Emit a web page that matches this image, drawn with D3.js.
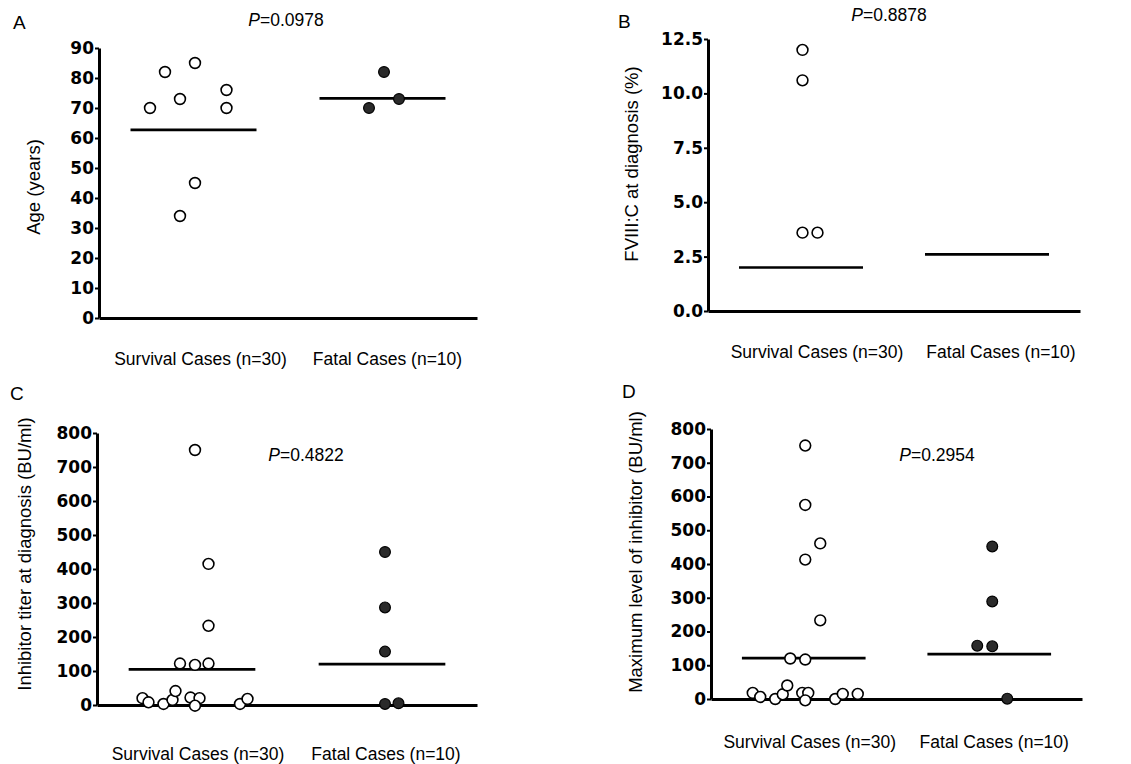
<!DOCTYPE html>
<html>
<head>
<meta charset="utf-8">
<script src="https://d3js.org/d3.v7.min.js"></script>
<style>
  body { margin: 0; background: #fff; }
  svg { display: block; }
  .ytick text { font-family: "DejaVu Sans", sans-serif; font-weight: bold; font-size: 17px; fill: #000; }
  .lbl { font-family: "Liberation Sans", Arial, sans-serif; fill: #000; }
</style>
</head>
<body>
<svg id="chart" width="1131" height="764"></svg>
<script>
// categories and labels
const categories = ['Survival Cases (n=30)', 'Fatal Cases (n=10)'];
const panelLetters = ['A', 'B', 'C', 'D'];
const pValues = ['0.0978', '0.8878', '0.4822', '0.2954'];
const yTitles = ['Age (years)', 'FVIII:C at diagnosis (%)', 'Inhibitor titer at diagnosis (BU/ml)', 'Maximum level of inhibitor (BU/ml)'];

// tick values
const ageTicks = [0, 10, 20, 30, 40, 50, 60, 70, 80, 90];
const fviiiTicks = [0, 2.5, 5, 7.5, 10, 12.5];
const titerTicks = [0, 100, 200, 300, 400, 500, 600, 700, 800];

// A: age
const ageSurv = [70, 82, 73, 85, 76, 70, 45, 34];
const ageSurvOff = [-2.9, -1.9, -0.9, 0.1, 2.2, 2.2, 0.1, -0.9];
const ageFatal = [82, 70, 73];
const ageFatalOff = [0.1, -0.9, 1.1];
const ageMedians = [62.7, 73.2];

// B: FVIII:C
const fviiiSurv = [12.0, 10.6, 3.6, 3.6];
const fviiiSurvOff = [0.1, 0.1, 0.1, 1.1];
const fviiiFatal = [];
const fviiiFatalOff = [];
const fviiiMedians = [2.0, 2.6];

// C: inhibitor titer at diagnosis
const titerSurv = [750, 415, 233, 122, 118, 122, 20, 8, 3, 15, 41, 22, 20, -2, 3, 18];
const titerSurvOff = [0.2, 1.1, 1.1, -0.8, 0.2, 1.1, -3.3, -2.9, -1.9, -1.3, -1.1, -0.1, 0.5, 0.2, 3.2, 3.7];
const titerFatal = [450, 287, 157, 3, 5];
const titerFatalOff = [0.2, 0.2, 0.2, 0.2, 1.1];
const titerMedians = [105, 120];

// D: maximum level of inhibitor
const maxSurv = [751, 575, 461, 413, 233, 120, 117, 18, 6, 0, 14, 40, 18, 18, -4, 0, 15, 15];
const maxSurvOff = [0.1, 0.1, 1.1, 0.1, 1.1, -0.9, 0.1, -3.4, -2.9, -1.9, -1.4, -1.1, -0.1, 0.3, 0.1, 2.1, 2.6, 3.6];
const maxFatal = [452, 289, 158, 156, 1];
const maxFatalOff = [0.2, 0.2, -0.8, 0.2, 1.2];
const maxMedians = [121, 133];

const svg = d3.select('#chart');
svg.append('rect').attr('width', 1131).attr('height', 764).attr('fill', '#fff');

const panels = [
  { letter: 0, ticks: ageTicks, fmt: d3.format('d'), surv: ageSurv, survOff: ageSurvOff, fatal: ageFatal, fatalOff: ageFatalOff, med: ageMedians,
    left: 99, right: 477, y0: 318, yTop: 48, letterPos: [13, 29], pPos: [286, 26], titlePos: [40, 187], labelShift: [7, 5], labelBase: 47 },
  { letter: 1, ticks: fviiiTicks, fmt: d3.format('.1f'), surv: fviiiSurv, survOff: fviiiSurvOff, fatal: fviiiFatal, fatalOff: fviiiFatalOff, med: fviiiMedians,
    left: 708, right: 1080, y0: 311, yTop: 39, letterPos: [618, 28], pPos: [889, 21], titlePos: [638, 164], labelShift: [16, 14], labelBase: 47 },
  { letter: 2, ticks: titerTicks, fmt: d3.format('d'), surv: titerSurv, survOff: titerSurvOff, fatal: titerFatal, fatalOff: titerFatalOff, med: titerMedians,
    left: 97, right: 477, y0: 705, yTop: 433, letterPos: [10, 400], pPos: [306, 461], titlePos: [31, 554], labelShift: [6, 4], labelBase: 55 },
  { letter: 3, ticks: titerTicks, fmt: d3.format('d'), surv: maxSurv, survOff: maxSurvOff, fatal: maxFatal, fatalOff: maxFatalOff, med: maxMedians,
    left: 711, right: 1082, y0: 699, yTop: 429, letterPos: [622, 398], pPos: [937, 461], titlePos: [642, 552], labelShift: [6, 5], labelBase: 49 }
];

const off = d3.scaleLinear().domain([0, 1]).range([0, 15]);

panels.forEach((p, i) => {
  const g = svg.append('g');
  const y = d3.scaleLinear().domain([0, d3.max(p.ticks)]).range([p.y0, p.yTop]);
  const x = d3.scalePoint().domain(categories).range([p.left, p.right]).padding(0.5);

  // y axis
  const ya = g.append('g')
    .attr('class', 'ytick')
    .attr('transform', `translate(${p.left},0)`)
    .call(d3.axisLeft(y).tickValues(p.ticks).tickFormat(p.fmt).tickSize(4).tickSizeOuter(0).tickPadding(1));
  ya.select('.domain').attr('stroke', '#000').attr('stroke-width', 3);
  ya.selectAll('.tick line').attr('stroke', '#000').attr('stroke-width', 2);

  // x axis (line only)
  const xa = g.append('g')
    .attr('transform', `translate(0,${y(0)})`)
    .call(d3.axisBottom(x).tickSize(0).tickSizeOuter(0).tickFormat(''));
  xa.select('.domain').attr('stroke', '#000').attr('stroke-width', 3);

  // category labels
  g.selectAll('.cat').data(categories).join('text')
    .attr('class', 'lbl')
    .attr('x', (d, k) => x(d) + p.labelShift[k])
    .attr('y', y(0) + p.labelBase)
    .attr('text-anchor', 'middle')
    .attr('font-size', 17.5)
    .text(d => d);

  // medians
  const hw = x.step() / 3;
  g.selectAll('.med').data(p.med).join('line')
    .attr('x1', (d, k) => x(categories[k]) - hw)
    .attr('x2', (d, k) => x(categories[k]) + hw)
    .attr('y1', d => y(d)).attr('y2', d => y(d))
    .attr('stroke', '#000').attr('stroke-width', 2.7);

  // survival dots (open)
  g.selectAll('.sv').data(p.surv).join('circle')
    .attr('cx', (d, k) => x(categories[0]) + off(p.survOff[k]))
    .attr('cy', d => y(d))
    .attr('r', 5.4)
    .attr('fill', '#fff').attr('stroke', '#000').attr('stroke-width', 1.6);

  // fatal dots (filled)
  g.selectAll('.ft').data(p.fatal).join('circle')
    .attr('cx', (d, k) => x(categories[1]) + off(p.fatalOff[k]))
    .attr('cy', d => y(d))
    .attr('r', 5.4)
    .attr('fill', '#2a2a2a').attr('stroke', '#000').attr('stroke-width', 1.2);

  // y title
  g.append('text').attr('class', 'lbl')
    .attr('transform', `translate(${p.titlePos[0]},${p.titlePos[1]}) rotate(-90)`)
    .attr('text-anchor', 'middle')
    .attr('font-size', 18.5)
    .text(yTitles[i]);

  // panel letter
  g.append('text').attr('class', 'lbl')
    .attr('x', p.letterPos[0]).attr('y', p.letterPos[1])
    .attr('font-size', 19)
    .text(panelLetters[p.letter]);

  // p value
  const pt = g.append('text').attr('class', 'lbl')
    .attr('x', p.pPos[0]).attr('y', p.pPos[1])
    .attr('text-anchor', 'middle')
    .attr('font-size', 17.5);
  pt.append('tspan').attr('font-style', 'italic').text('P');
  pt.append('tspan').text('=' + pValues[i]);
});
</script>
</body>
</html>
